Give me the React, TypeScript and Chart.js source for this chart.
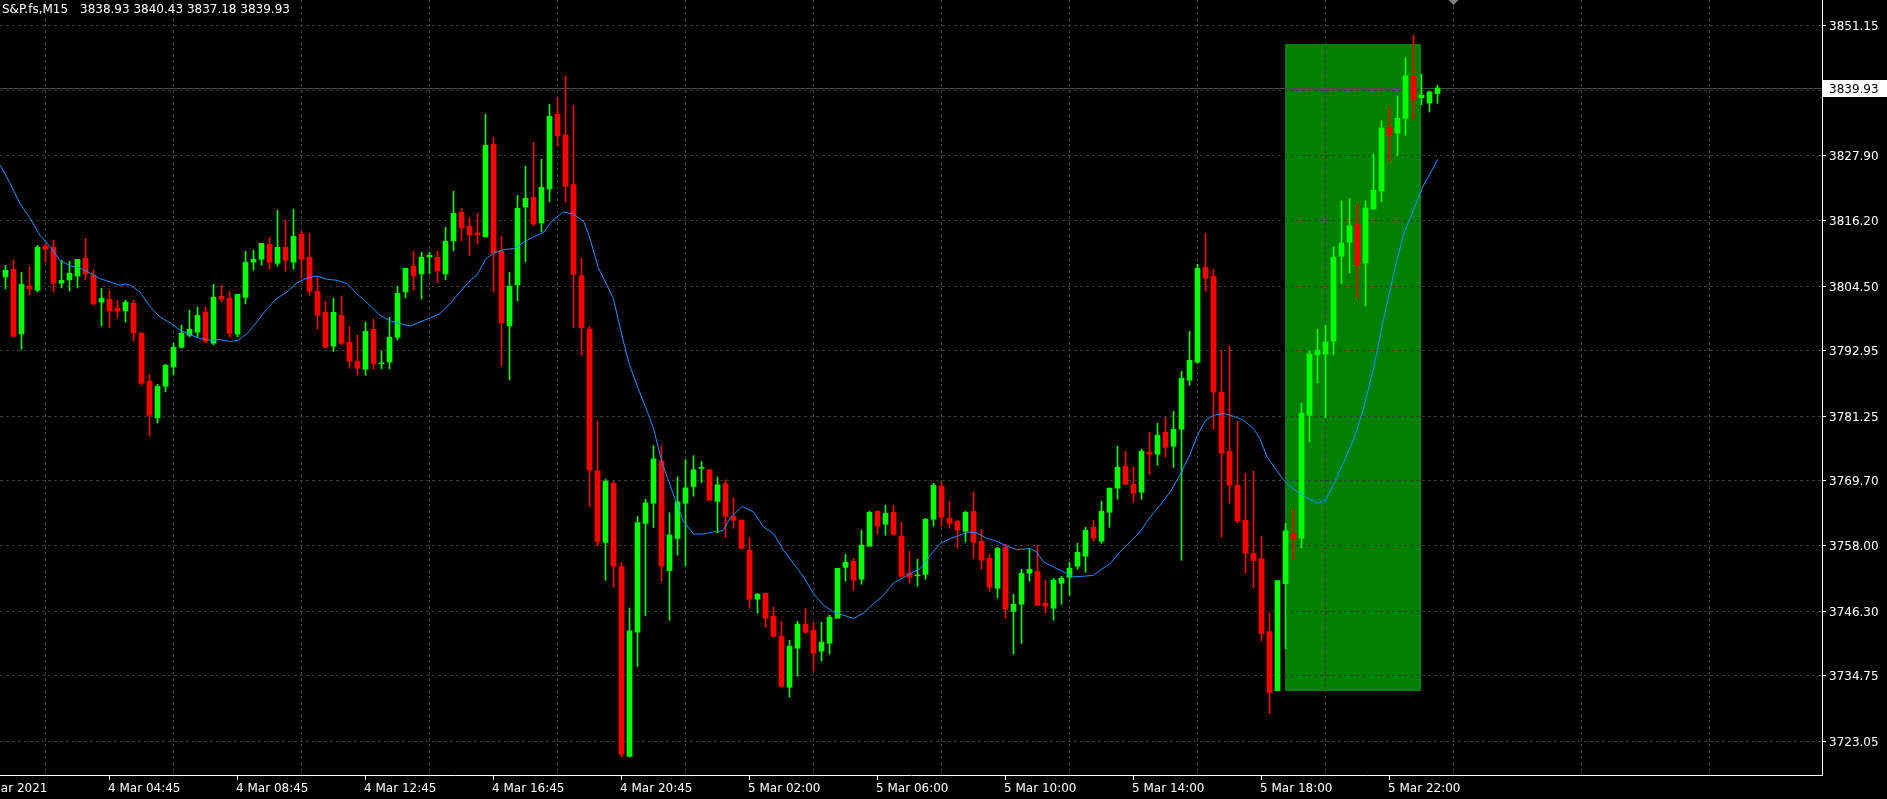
import React, { useEffect, useRef } from "react";
import { Chart, registerables } from "chart.js";

Chart.register(...registerables);

// ---- header ----
const symbolName = "S&P.fs,M15";
const headerOHLC = "3838.93 3840.43 3837.18 3839.93";

// ---- candles (15-minute bars, index 0 = first visible bar) ----
const opens = [
  3806.13, 3807.5, 3795.93, 3804.52, 3803.75, 3811.62, 3811.44, 3805.0, 3805.59, 3806.31,
  3809.47, 3806.43, 3801.6, 3802.14, 3800.53, 3800.05, 3801.42, 3796.05, 3787.47, 3780.91,
  3786.57, 3790.03, 3793.55, 3795.7, 3796.23, 3799.81, 3794.27, 3802.67, 3802.32, 3795.88,
  3802.49, 3808.76, 3809.29, 3811.98, 3808.58, 3811.44, 3808.76, 3813.76, 3809.65, 3803.57,
  3799.81, 3793.73, 3799.27, 3794.44, 3791.05, 3789.61, 3796.77, 3790.57, 3790.92, 3795.34,
  3803.45, 3808.04, 3806.67, 3809.71, 3809.65, 3806.67, 3812.57, 3817.7, 3815.19, 3814.0,
  3813.29, 3829.86, 3810.72, 3797.36, 3804.7, 3818.65, 3820.38, 3815.79, 3821.87, 3835.23,
  3831.54, 3822.65, 3806.35, 3796.82, 3771.47, 3758.63, 3769.18, 3754.3, 3720.36, 3742.57,
  3762.02, 3765.64, 3773.2, 3753.59, 3759.34, 3765.64, 3768.63, 3771.9, 3771.62, 3765.95,
  3769.1, 3763.28, 3762.6, 3757.23, 3748.47, 3749.54, 3745.43, 3741.85, 3732.73, 3739.7,
  3744.0, 3742.92, 3739.17, 3740.6, 3745.07, 3754.19, 3755.27, 3752.05, 3757.95, 3764.21,
  3761.88, 3764.03, 3759.74, 3753.12, 3752.64, 3752.94, 3762.78, 3768.68, 3762.95, 3762.42,
  3760.63, 3764.21, 3758.84, 3755.8, 3750.43, 3757.77, 3746.32, 3747.57, 3753.12, 3753.47,
  3747.75, 3746.85, 3751.33, 3752.4, 3754.37, 3756.16, 3761.34, 3758.85, 3764.03, 3768.33,
  3772.26, 3769.04, 3767.61, 3774.77, 3774.41, 3778.35, 3775.84, 3778.88, 3787.65, 3790.87,
  3807.86, 3806.25, 3785.5, 3774.95, 3768.86, 3762.6, 3756.63, 3755.73, 3742.68, 3732.12,
  3751.26, 3760.21, 3759.38, 3781.37, 3792.16, 3792.32, 3794.64, 3809.82, 3812.38, 3815.5,
  3808.62, 3818.3, 3821.49, 3832.93, 3831.89, 3834.52, 3842.2, 3838.2, 3837.24, 3838.93,
];
const highs = [
  3808.22, 3809.11, 3806.97, 3808.04, 3811.8, 3812.09, 3812.69, 3809.11, 3808.93, 3809.29,
  3813.05, 3807.32, 3804.1, 3803.75, 3801.96, 3801.96, 3801.96, 3796.23, 3788.72, 3786.93,
  3790.51, 3794.27, 3797.49, 3800.17, 3800.76, 3800.76, 3804.82, 3804.64, 3803.57, 3803.03,
  3810.72, 3810.9, 3812.15, 3813.23, 3818.06, 3816.27, 3818.24, 3814.3, 3813.94, 3806.25,
  3801.78, 3802.32, 3802.67, 3797.31, 3795.7, 3798.02, 3798.56, 3792.89, 3798.92, 3804.46,
  3807.68, 3810.72, 3810.54, 3810.54, 3810.72, 3815.02, 3821.46, 3818.41, 3816.8, 3817.52,
  3835.23, 3831.12, 3813.4, 3806.97, 3820.74, 3825.93, 3830.22, 3827.18, 3837.02, 3838.27,
  3842.0, 3836.82, 3809.5, 3797.29, 3780.36, 3769.97, 3769.58, 3755.01, 3746.9, 3763.28,
  3766.35, 3775.95, 3775.95, 3763.91, 3770.36, 3773.43, 3774.14, 3773.12, 3771.7, 3770.36,
  3769.81, 3766.58, 3762.7, 3759.56, 3749.54, 3749.6, 3747.04, 3744.53, 3741.13, 3744.53,
  3746.86, 3744.35, 3744.35, 3745.61, 3754.01, 3756.52, 3755.8, 3760.81, 3764.21, 3764.3,
  3765.28, 3765.28, 3762.24, 3757.05, 3755.62, 3762.95, 3769.22, 3769.57, 3766.0, 3762.6,
  3764.21, 3767.61, 3760.99, 3756.51, 3757.77, 3758.3, 3749.36, 3753.83, 3757.59, 3758.12,
  3751.86, 3752.22, 3752.58, 3755.08, 3758.48, 3761.34, 3762.6, 3766.0, 3768.4, 3775.84,
  3774.95, 3772.08, 3775.3, 3778.35, 3779.96, 3781.03, 3782.1, 3789.26, 3796.41, 3808.4,
  3813.94, 3807.5, 3793.01, 3793.73, 3780.31, 3771.01, 3771.37, 3759.67, 3746.07, 3751.8,
  3762.0, 3764.5, 3783.52, 3792.96, 3796.79, 3797.51, 3811.5, 3819.74, 3820.14, 3819.1,
  3819.74, 3828.13, 3834.04, 3836.6, 3838.52, 3845.32, 3849.39, 3842.44, 3839.3, 3840.43,
];
const lows = [
  3803.98, 3795.4, 3793.19, 3802.91, 3803.45, 3808.76, 3803.45, 3804.16, 3803.63, 3804.16,
  3805.59, 3801.12, 3797.37, 3797.07, 3798.8, 3798.08, 3794.68, 3786.81, 3777.69, 3780.01,
  3785.56, 3788.6, 3793.37, 3795.4, 3795.4, 3794.32, 3793.97, 3801.6, 3795.4, 3795.4,
  3801.3, 3807.32, 3808.22, 3807.5, 3808.04, 3807.15, 3807.5, 3805.89, 3802.85, 3796.77,
  3793.55, 3792.83, 3793.97, 3789.79, 3788.54, 3788.54, 3789.67, 3789.67, 3789.67, 3794.86,
  3802.37, 3803.8, 3802.19, 3806.67, 3805.06, 3805.59, 3810.78, 3812.57, 3809.89, 3812.03,
  3813.29, 3803.45, 3790.21, 3787.7, 3801.84, 3808.81, 3815.25, 3814.18, 3819.55, 3829.56,
  3819.5, 3797.06, 3792.1, 3765.09, 3758.0, 3751.86, 3750.6, 3720.21, 3720.2, 3736.43,
  3745.56, 3761.31, 3751.62, 3744.69, 3756.35, 3754.38, 3766.9, 3769.34, 3766.1, 3760.36,
  3759.5, 3761.15, 3757.41, 3746.86, 3745.96, 3743.46, 3741.67, 3732.73, 3730.94, 3734.69,
  3742.39, 3735.59, 3737.38, 3738.63, 3745.07, 3751.69, 3750.08, 3751.15, 3757.95, 3760.1,
  3759.92, 3759.92, 3752.58, 3751.33, 3750.79, 3752.04, 3761.52, 3761.52, 3761.17, 3757.59,
  3758.66, 3755.8, 3753.83, 3749.9, 3748.64, 3745.07, 3738.63, 3740.59, 3751.68, 3747.39,
  3745.96, 3744.71, 3747.57, 3749.18, 3753.83, 3753.29, 3758.84, 3758.49, 3761.35, 3766.36,
  3769.0, 3765.82, 3766.36, 3770.83, 3772.44, 3773.87, 3772.08, 3755.45, 3786.75, 3790.69,
  3803.57, 3778.88, 3759.56, 3765.64, 3762.07, 3753.12, 3750.55, 3741.07, 3728.01, 3732.12,
  3739.63, 3755.56, 3757.63, 3776.65, 3787.2, 3780.97, 3792.24, 3804.95, 3806.87, 3802.39,
  3800.95, 3818.3, 3819.58, 3826.85, 3827.81, 3831.49, 3834.2, 3836.92, 3835.64, 3837.18,
];
const closes = [
  3807.32, 3795.52, 3804.82, 3803.98, 3811.44, 3811.08, 3805.0, 3805.54, 3806.79, 3809.29,
  3806.67, 3801.3, 3802.32, 3800.05, 3800.05, 3801.6, 3796.11, 3787.11, 3781.39, 3786.57,
  3790.33, 3793.55, 3796.05, 3796.77, 3799.27, 3794.62, 3802.49, 3802.14, 3796.05, 3803.03,
  3808.76, 3809.29, 3812.15, 3808.76, 3811.44, 3809.11, 3813.41, 3809.29, 3803.57, 3799.27,
  3793.55, 3799.81, 3794.27, 3791.05, 3789.79, 3796.41, 3790.57, 3790.75, 3795.34, 3803.21,
  3807.68, 3806.31, 3809.65, 3810.01, 3807.2, 3812.51, 3817.52, 3814.9, 3813.64, 3813.64,
  3829.68, 3810.42, 3797.9, 3804.46, 3818.41, 3820.2, 3815.61, 3822.17, 3834.87, 3831.35,
  3822.33, 3806.58, 3797.06, 3771.54, 3758.79, 3769.58, 3754.38, 3720.68, 3742.8, 3762.17,
  3765.72, 3773.59, 3754.38, 3759.97, 3765.88, 3768.4, 3771.62, 3772.0, 3766.19, 3768.95,
  3763.28, 3762.57, 3757.59, 3748.47, 3749.36, 3745.07, 3741.85, 3732.9, 3740.06, 3744.0,
  3742.56, 3738.81, 3740.78, 3745.25, 3754.01, 3755.09, 3751.87, 3758.13, 3764.03, 3761.53,
  3763.85, 3760.1, 3752.58, 3752.4, 3752.7, 3762.78, 3768.86, 3763.13, 3762.06, 3760.81,
  3764.03, 3758.66, 3755.44, 3750.61, 3757.59, 3746.68, 3747.57, 3753.12, 3753.83, 3747.39,
  3747.21, 3751.86, 3752.22, 3754.01, 3756.87, 3760.81, 3759.38, 3764.21, 3768.33, 3772.08,
  3769.04, 3767.43, 3774.95, 3774.41, 3777.81, 3775.66, 3778.88, 3788.01, 3791.23, 3807.68,
  3805.89, 3785.5, 3774.59, 3768.86, 3762.42, 3756.7, 3755.38, 3742.32, 3731.76, 3751.8,
  3760.74, 3759.13, 3781.77, 3792.32, 3793.04, 3794.48, 3809.66, 3812.14, 3815.26, 3808.31,
  3818.46, 3821.65, 3832.77, 3831.57, 3834.52, 3842.12, 3837.8, 3838.68, 3839.24, 3839.93,
];

// ---- moving average line (bar index, price) ----
const maIndex = [
  -0.66, 0.6, 1.8, 3.1, 4.3, 5.6, 6.8, 8.1, 9.3, 10.6, 11.8, 13.1, 14.3, 14.9, 15.6, 16.8, 18.1, 19.3, 20.6, 21.8, 23.1,
  24.3, 25.6, 26.8, 28.1, 29.1, 30.2, 31.4, 32.7, 33.9, 35.2, 36.4, 37.7, 38.9, 40.2, 41.4, 42.7, 43.9, 45.2,
  46.8, 48.1, 49.3, 50.6, 51.8, 53.1, 54.3, 55.6, 56.8, 58.1, 58.9, 60.0, 61.0, 62.3, 63.6, 64.8, 66.0, 67.3, 68.3,
  69.7, 71.0, 72.3, 73.0, 74.1, 76.0, 76.8, 77.9, 79.1, 80.4, 81.0, 82.1, 83.9, 84.7, 86.0, 87.2, 88.5, 89.7, 90.6,
  92.1, 93.5, 94.75, 96.0, 97.25, 98.5, 99.75, 101.0, 102.25, 103.5, 104.75, 106.0, 107.25, 108.5, 109.75, 111.0, 112.25, 113.5,
  114.3, 115.6, 116.8, 118.1, 119.3, 120.4, 121.4, 122.7, 123.9, 125.2, 126.4, 128.1, 128.9, 129.75, 131.0, 132.25, 133.5, 134.75, 136.0,
  136.8, 138.1, 139.3, 140.6, 141.8, 143.1, 144.3, 145.6, 146.8, 148.1, 148.9, 150.0, 151.0, 152.25, 153.5, 154.75, 156.0, 156.8, 157.7,
  158.1, 159.75, 161.0, 162.25, 163.9, 165.0, 166.0, 167.25, 168.5, 169.75, 171.0, 172.25, 173.5, 174.75, 176.0, 177.25, 178.5, 179.0,
];
const maValue = [
  3826.11, 3822.83, 3819.25, 3816.57, 3813.59, 3811.5, 3809.11, 3808.1, 3807.74, 3806.85, 3805.83, 3805.24, 3804.64, 3804.88, 3804.64, 3803.45, 3800.76, 3798.97, 3797.9, 3796.6, 3795.8,
  3795.1, 3794.8, 3794.92, 3794.56, 3794.8, 3796.0, 3798.08, 3800.47, 3802.26, 3803.45, 3805.06, 3805.95, 3806.31, 3805.71, 3805.54, 3804.94, 3803.15, 3801.5,
  3799.27, 3798.26, 3797.78, 3797.36, 3798.08, 3798.8, 3799.57, 3801.36, 3803.45, 3805.53, 3806.43, 3809.23, 3810.42, 3811.02, 3811.2, 3812.39, 3813.29, 3814.18, 3816.15,
  3817.76, 3817.37, 3816.0, 3813.28, 3807.77, 3802.25, 3797.14, 3790.84, 3786.11, 3781.39, 3779.02, 3772.73, 3765.64, 3762.49, 3760.13, 3760.13, 3760.52, 3760.76, 3763.0,
  3765.1, 3764.09, 3761.41, 3760.21, 3757.23, 3754.85, 3752.46, 3749.48, 3747.39, 3746.2, 3745.61, 3745.01, 3746.02, 3747.69, 3749.18, 3751.39, 3752.34, 3753.36,
  3753.9, 3756.34, 3758.42, 3759.32, 3759.91, 3760.51, 3760.33, 3759.32, 3758.84, 3757.95, 3757.35, 3757.53, 3756.93, 3755.14, 3754.25, 3753.35, 3752.46, 3752.58, 3752.76,
  3753.66, 3754.85, 3756.94, 3758.73, 3760.52, 3763.2, 3765.28, 3767.67, 3770.65, 3774.53, 3777.51, 3780.49, 3781.39, 3781.69, 3781.21, 3780.49, 3779.0, 3777.21, 3773.93,
  3773.13, 3769.78, 3768.18, 3766.98, 3765.62, 3766.18, 3768.98, 3772.97, 3776.97, 3782.57, 3789.76, 3798.55, 3806.55, 3813.74, 3818.14, 3822.53, 3825.73, 3827.17,
];

// ---- price axis ----
const priceGrid = [3851.15, 3839.5, 3827.9, 3816.2, 3804.5, 3792.95, 3781.25, 3769.7, 3758.0, 3746.3, 3734.75, 3723.05];
const priceLabels = ["3851.15", "", "3827.90", "3816.20", "3804.50", "3792.95", "3781.25", "3769.70", "3758.00", "3746.30", "3734.75", "3723.05"];
const lastPrice = 3839.93;
const lastPriceLabel = "3839.93";

// ---- time axis ----
const timeLabelBars = [13, 29, 45, 61, 77, 93, 109, 125, 141, 157, 173];
const timeLabels = [
  "4 Mar 04:45", "4 Mar 08:45", "4 Mar 12:45", "4 Mar 16:45", "4 Mar 20:45",
  "5 Mar 02:00", "5 Mar 06:00", "5 Mar 10:00", "5 Mar 14:00", "5 Mar 18:00", "5 Mar 22:00",
];
const firstDateLabel = "4 Mar 2021";
const timeGridBars = [5, 21, 37, 53, 69, 85, 101, 117, 133, 149, 165, 181, 197, 213];
const shiftMarkerBar = 181;

// ---- highlighted zone (rectangle object) ----
const zoneBars = [160, 177];
const zonePrices = [3732.12, 3847.8];

// ---- view ----
const viewBars = [-0.6875, 227.0625];
const viewPrices = [3717.02, 3855.68];

const UP = "#00ff00";
const DOWN = "#ff0000";
const FONT = "12px 'DejaVu Sans'";
const GRID = "#3a3a3a";

const mt4Plugin = {
  id: "mt4",
  beforeDraw(chart: any) {
    const { ctx, scales } = chart;
    const x = scales.x;
    const y = scales.y;
    ctx.save();
    ctx.fillStyle = "#000000";
    ctx.fillRect(0, 0, chart.width, chart.height);
    const x0 = Math.round(x.getPixelForValue(zoneBars[0]) - 0.5);
    const x1 = Math.round(x.getPixelForValue(zoneBars[1]) - 0.5);
    const y0 = Math.round(y.getPixelForValue(zonePrices[1]));
    const y1 = Math.round(y.getPixelForValue(zonePrices[0]));
    ctx.fillStyle = "#008000";
    ctx.fillRect(x0, y0, x1 - x0, y1 - y0);
    ctx.restore();
  },
  beforeDatasetsDraw(chart: any) {
    const { ctx, chartArea, scales } = chart;
    const x = scales.x;
    const y = scales.y;
    ctx.save();
    ctx.lineWidth = 1;
    ctx.strokeStyle = GRID;
    ctx.setLineDash([3, 3]);
    for (const b of timeGridBars) {
      const px = Math.floor(x.getPixelForValue(b)) + 0.5;
      if (px > chartArea.right) continue;
      ctx.beginPath();
      ctx.moveTo(px, chartArea.top);
      ctx.lineTo(px, chartArea.bottom);
      ctx.stroke();
    }
    for (const p of priceGrid) {
      const py = Math.floor(y.getPixelForValue(p)) + 0.5;
      ctx.beginPath();
      ctx.moveTo(chartArea.left, py);
      ctx.lineTo(chartArea.right, py);
      ctx.stroke();
    }
    ctx.setLineDash([]);
    ctx.strokeStyle = "#4a4a4a";
    const lp = Math.floor(y.getPixelForValue(lastPrice)) + 0.5;
    ctx.beginPath();
    ctx.moveTo(chartArea.left, lp);
    ctx.lineTo(chartArea.right, lp);
    ctx.stroke();
    ctx.restore();
  },
  afterDraw(chart: any) {
    const { ctx, chartArea, scales } = chart;
    const x = scales.x;
    const y = scales.y;
    ctx.save();
    // axis lines
    ctx.strokeStyle = "#ffffff";
    ctx.lineWidth = 1;
    ctx.beginPath();
    ctx.moveTo(chartArea.right + 0.5, 0);
    ctx.lineTo(chartArea.right + 0.5, chartArea.bottom + 1);
    ctx.moveTo(0, chartArea.bottom + 0.5);
    ctx.lineTo(chartArea.right + 1, chartArea.bottom + 0.5);
    ctx.stroke();

    ctx.font = FONT;
    ctx.textBaseline = "alphabetic";
    ctx.fillStyle = "#ffffff";
    // price labels
    priceGrid.forEach((p, i) => {
      const py = Math.floor(y.getPixelForValue(p)) + 0.5;
      ctx.beginPath();
      ctx.moveTo(chartArea.right + 1, py);
      ctx.lineTo(chartArea.right + 4, py);
      ctx.stroke();
      if (priceLabels[i]) ctx.fillText(priceLabels[i], chartArea.right + 7, py + 4.5);
    });
    // time labels
    timeLabelBars.forEach((b, i) => {
      const px = Math.floor(x.getPixelForValue(b)) + 0.5;
      ctx.beginPath();
      ctx.moveTo(px, chartArea.bottom + 1);
      ctx.lineTo(px, chartArea.bottom + 5);
      ctx.stroke();
      ctx.fillText(timeLabels[i], px - 1.5, chartArea.bottom + 17);
    });
    ctx.fillText(firstDateLabel, -21, chartArea.bottom + 17);

    // last price box
    const lp = Math.floor(y.getPixelForValue(lastPrice)) + 0.5;
    ctx.fillStyle = "#ffffff";
    ctx.fillRect(chartArea.right + 1, Math.round(lp - 8.5), chart.width - chartArea.right - 1, 17);
    ctx.fillStyle = "#000000";
    ctx.fillText(lastPriceLabel, chartArea.right + 7, lp + 4.5);

    // header
    ctx.fillStyle = "#ffffff";
    ctx.fillText(symbolName, 2, 13);
    ctx.fillText(headerOHLC, 80, 13);

    // chart shift marker
    const sx = Math.floor(x.getPixelForValue(shiftMarkerBar)) + 0.5;
    ctx.fillStyle = "#808080";
    ctx.beginPath();
    ctx.moveTo(sx - 5, 0);
    ctx.lineTo(sx + 5, 0);
    ctx.lineTo(sx, 5);
    ctx.closePath();
    ctx.fill();
    ctx.restore();
  },
};

export default function App() {
  const ref = useRef<HTMLCanvasElement | null>(null);
  useEffect(() => {
    document.body.style.margin = "0";
    document.body.style.background = "#000";
    const canvas = ref.current;
    if (!canvas) return;
    const idx = opens.map((_, i) => i);
    const colors = idx.map((i) => (closes[i] >= opens[i] ? UP : DOWN));
    const chart = new Chart(canvas, {
      type: "bar",
      data: {
        datasets: [
          {
            type: "line",
            label: "MA",
            data: maIndex.map((v, j) => ({ x: v, y: maValue[j] })),
            borderColor: "#1e90ff",
            borderWidth: 1,
            pointRadius: 0,
            tension: 0,
            fill: false,
          } as any,
          {
            label: "body",
            data: idx.map((i) => ({ x: i, y: [opens[i], closes[i]] })),
            backgroundColor: colors,
            barThickness: 5,
            minBarLength: 1,
            grouped: false,
            borderWidth: 0,
          } as any,
          {
            label: "wick",
            data: idx.map((i) => ({ x: i, y: [lows[i], highs[i]] })),
            backgroundColor: colors,
            barThickness: 1,
            minBarLength: 1,
            grouped: false,
            borderWidth: 0,
          } as any,
        ],
      },
      options: {
        responsive: false,
        animation: false,
        events: [],
        layout: { padding: { left: 0, top: 0, right: 65, bottom: 24 } },
        plugins: { legend: { display: false }, tooltip: { enabled: false } },
        scales: {
          x: {
            type: "linear",
            min: viewBars[0],
            max: viewBars[1],
            offset: false,
            display: false,
            grid: { display: false },
          },
          y: {
            type: "linear",
            min: viewPrices[0],
            max: viewPrices[1],
            display: false,
            grid: { display: false },
          },
        },
      } as any,
      plugins: [mt4Plugin],
    });
    return () => chart.destroy();
  }, []);
  return <canvas ref={ref} width={1887} height={799} style={{ display: "block", width: 1887, height: 799 }} />;
}
